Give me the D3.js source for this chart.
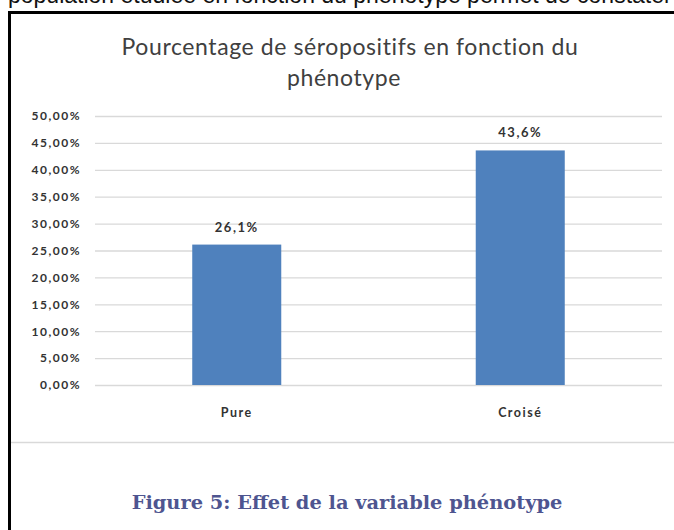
<!DOCTYPE html>
<meta charset="utf-8">
<style>
  body { margin: 0; background: #fff; }
  svg { display: block; }
</style>
<svg width="674" height="530"></svg>
<script src="https://d3js.org/d3.v7.min.js"></script>
<script>

// données
var categories = ["Pure", "Croisé"];
var values = [0.261, 0.436];
var valueLabels = ["26,1%", "43,6%"];
var yTicks = [0, 0.05, 0.10, 0.15, 0.20, 0.25, 0.30, 0.35, 0.40, 0.45, 0.50];

var svg = d3.select("svg");

// ligne de texte coupée en haut de la page
svg.append("text")
    .attr("x", 8).attr("y", 3)
    .attr("font-family", "Liberation Sans, Arial, sans-serif")
    .attr("font-size", 23)
    .attr("fill", "#111")
    .text("population étudiée en fonction du phénotype permet de constater");

// cadre noir
svg.append("path")
    .attr("d", "M9.5,560 L9.5,12.5 L680,12.5")
    .attr("fill", "none")
    .attr("stroke", "#000")
    .attr("stroke-width", 3);

// bordure de la zone du graphique
svg.append("line")
    .attr("x1", 11).attr("x2", 674)
    .attr("y1", 442.5).attr("y2", 442.5)
    .attr("stroke", "#d9d9d9").attr("stroke-width", 1.5);

var mLeft = 95, mRight = 662, mTop = 116, mBottom = 385;

var x = d3.scaleBand()
    .domain(categories)
    .range([mLeft, mRight])
    .paddingInner(0.686)
    .paddingOuter(0.343);

var y = d3.scaleLinear()
    .domain([0, 0.5])
    .range([mBottom, mTop]);

var fmt = function(d) { return d3.format(".2f")(d * 100).replace(".", ",") + "%"; };

// grille + axe y
var yAxis = svg.append("g")
    .attr("transform", "translate(" + mLeft + ",0)")
    .call(d3.axisLeft(y).tickValues(yTicks).tickFormat(fmt)
      .tickSize(-(mRight - mLeft)).tickPadding(14));
yAxis.select(".domain").remove();
yAxis.selectAll(".tick line")
    .attr("stroke", "#d9d9d9").attr("stroke-width", 1.3);
yAxis.selectAll(".tick text")
    .attr("font-family", "Lato, sans-serif")
    .attr("font-weight", "bold")
    .attr("font-size", 12)
    .attr("letter-spacing", 1.5)
    .attr("fill", "#333");

// barres
svg.append("g").selectAll("rect")
    .data(values)
    .enter().append("rect")
    .attr("x", function(d, i) { return x(categories[i]); })
    .attr("width", x.bandwidth())
    .attr("y", function(d) { return y(d); })
    .attr("height", function(d) { return y(0) - y(d); })
    .attr("fill", "#4f81bd");

// étiquettes de valeurs
svg.append("g").selectAll("text")
    .data(values)
    .enter().append("text")
    .attr("x", function(d, i) { return x(categories[i]) + x.bandwidth() / 2; })
    .attr("y", function(d) { return y(d) - 13; })
    .attr("text-anchor", "middle")
    .attr("font-family", "Lato, sans-serif")
    .attr("font-weight", "bold")
    .attr("font-size", 13)
    .attr("letter-spacing", 1.5)
    .attr("fill", "#333")
    .text(function(d, i) { return valueLabels[i]; });

// axe x
var xAxis = svg.append("g")
    .attr("transform", "translate(0," + mBottom + ")")
    .call(d3.axisBottom(x).tickSize(0).tickPadding(23));
xAxis.select(".domain").remove();
xAxis.selectAll(".tick text")
    .attr("font-family", "Lato, sans-serif")
    .attr("font-weight", "bold")
    .attr("font-size", 12.5)
    .attr("letter-spacing", 1.5)
    .attr("fill", "#333");

// titre
var title = svg.append("text")
    .attr("text-anchor", "middle")
    .attr("font-family", "Lato, sans-serif")
    .attr("font-size", 23)
    .attr("letter-spacing", 0.6)
    .attr("fill", "#404040");
title.append("tspan").attr("x", 350).attr("y", 55).text("Pourcentage de séropositifs en fonction du");
title.append("tspan").attr("x", 344).attr("y", 86).text("phénotype");

// légende de la figure
svg.append("text")
    .attr("x", 347).attr("y", 509)
    .attr("text-anchor", "middle")
    .attr("font-family", "DejaVu Serif, serif")
    .attr("font-weight", "bold")
    .attr("font-size", 19.4)
    .attr("fill", "#4e5590")
    .text("Figure 5: Effet de la variable phénotype");

</script>
